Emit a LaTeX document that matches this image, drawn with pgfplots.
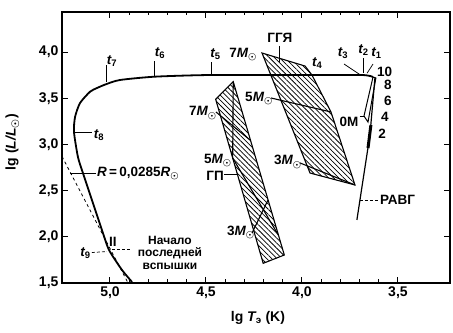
\documentclass[border=0pt]{standalone}
\usepackage{fontspec}
\setmainfont{Liberation Sans}
\usepackage{pgfplots}
\pgfplotsset{compat=1.18}
\usetikzlibrary{patterns.meta}
\tikzset{
  lab/.style={font=\fontsize{13.5}{12}\selectfont\bfseries, inner sep=0pt},
  hatch/.style={draw=black, line width=1.1pt,
    pattern={Lines[angle=-45, distance=3.6pt, line width=0.75pt]}},
}
\newcommand{\sun}{\textsubscript{\boldmath$\odot$}}

\begin{document}
\begin{tikzpicture}
\begin{axis}[
    name=ax,
    scale only axis,
    width=388pt, height=271pt,
    x dir=reverse,
    xmin=3.229, xmax=5.25,
    ymin=1.5, ymax=4.433,
    xtick={3.5,4.0,4.5,5.0},
    ytick={1.5,2.0,2.5,3.0,3.5,4.0},
    minor x tick num=4,
    axis line style={line width=1.3pt},
    major tick length=6pt, minor tick length=3.5pt,
    every tick/.style={black, line width=1pt},
    tick label style={font=\fontsize{14}{14}\selectfont\bfseries},
    /pgf/number format/use comma,
    /pgf/number format/fixed,
    /pgf/number format/fixed zerofill,
    /pgf/number format/precision=1,
    /pgf/number format/assume math mode=true,
    xlabel={lg {\itshape T}\textsubscript{э} (K)},
    ylabel={lg ({\itshape L/L}\sun)},
    xlabel style={font=\fontsize{14}{14}\selectfont\bfseries, at={(axis description cs:0.505,-0.13)}, anchor=center},
    ylabel style={font=\fontsize{14}{14}\selectfont\bfseries, at={(axis description cs:-0.128,0.52)}, anchor=center},
]

% ГГЯ: hatched region
\addplot[hatch] coordinates {
    (4.208,3.989) (3.984,3.848) (3.948,3.751) (3.849,3.351) (3.724,2.561) (3.958,2.690)
} --cycle;
% mass lines in ГГЯ
\addplot[line width=1.1pt] coordinates {(4.161,3.502) (3.849,3.351)};
\addplot[line width=1.1pt] coordinates {(4.010,2.799) (3.724,2.561)};

% ГП: hatched band
\addplot[hatch] coordinates {
    (4.4495,3.488) (4.358,3.679) (4.092,1.803) (4.202,1.713)
} --cycle;
\addplot[line width=1.1pt] coordinates {(4.448,3.351) (4.271,3.048)};
\addplot[line width=1.1pt] coordinates {(4.361,2.853) (4.358,3.679)};
\addplot[line width=1.1pt] coordinates {(4.361,2.853) (4.123,2.019)};
\addplot[line width=1.1pt] coordinates {(4.260,2.041) (4.177,2.398)};

% main track
\addplot[line width=1.8pt, smooth, tension=0.4] coordinates {
    (3.630,3.729) (3.6875,3.751) (4.010,3.751) (4.479,3.751) (4.766,3.733)
    (4.948,3.697) (5.021,3.651) (5.068,3.610) (5.104,3.570) (5.156,3.448)
    (5.182,3.297) (5.1875,3.134) (5.167,2.864) (5.141,2.690) (5.094,2.398)
    (5.042,2.074) (5.005,1.857) (4.9375,1.641) (4.885,1.511)
};

% R = 0.0285 R_sun
\addplot[dashed, line width=0.8pt] coordinates {(5.25,2.87) (4.906,1.5)};

% thin loop and РАВГ
\addplot[line width=1pt] coordinates {(3.630,3.729) (3.677,3.307) (3.656,3.242) (3.615,3.719)} --cycle;
\addplot[line width=1.2pt] coordinates {(3.620,3.719) (3.646,3.102) (3.714,2.182)};
\addplot[line width=3pt] coordinates {(3.641,3.21) (3.656,2.96)};

% leaders
\draw[line width=0.8pt] (axis cs:5.021,3.68) -- (axis cs:5.021,3.86);
\draw[line width=0.8pt] (axis cs:4.771,3.73) -- (axis cs:4.771,3.90);
\draw[line width=0.8pt] (axis cs:4.474,3.75) -- (axis cs:4.474,3.89);
\draw[line width=0.8pt] (axis cs:4.115,4.065) -- (axis cs:4.115,3.89);
\draw[line width=0.7pt] (axis cs:3.781,3.87) -- (axis cs:3.698,3.755);
\draw[line width=0.7pt] (axis cs:3.682,3.93) -- (axis cs:3.682,3.77);
\draw[line width=0.7pt] (axis cs:3.630,3.87) -- (axis cs:3.661,3.77);
\draw[line width=0.8pt] (axis cs:5.182,3.134) -- (axis cs:5.094,3.134);
\draw[line width=0.8pt] (axis cs:5.208,2.690) -- (axis cs:5.073,2.690);
\draw[line width=0.8pt] (axis cs:4.406,2.68) -- (axis cs:4.333,2.68);
\draw[line width=0.7pt] (axis cs:3.698,3.30) -- (axis cs:3.672,3.30);
\draw[line width=0.7pt, densely dashed] (axis cs:3.698,2.398) -- (axis cs:3.604,2.398);
\draw[line width=0.7pt, densely dashed] (axis cs:5.094,1.83) -- (axis cs:5.016,1.84);
\draw[line width=0.7pt, densely dashed] (axis cs:4.99,1.86) -- (axis cs:4.89,1.86);

% labels
\node[lab] at (axis cs:4.990,3.90) {{\itshape t}\textsubscript{7}};
\node[lab] at (axis cs:4.740,3.99) {{\itshape t}\textsubscript{6}};
\node[lab] at (axis cs:4.450,3.98) {{\itshape t}\textsubscript{5}};
\node[lab] at (axis cs:3.920,3.88) {{\itshape t}\textsubscript{4}};
\node[lab] at (axis cs:3.786,3.99) {{\itshape t}\textsubscript{3}};
\node[lab] at (axis cs:3.680,4.02) {{\itshape t}\textsubscript{2}};
\node[lab] at (axis cs:3.612,3.99) {{\itshape t}\textsubscript{1}};
\node[lab, anchor=west] at (axis cs:5.085,3.10) {{\itshape t}\textsubscript{8}};
\node[lab, anchor=east] at (axis cs:5.100,1.82) {{\itshape t}\textsubscript{9}};
\node[lab] at (axis cs:4.985,1.95) {II};
\node[lab, anchor=west] at (axis cs:5.068,2.690) {{\itshape R}\,=\,0,0285{\itshape R}\sun};
\node[lab, align=center, font=\fontsize{12}{12.5}\selectfont\bfseries] at (axis cs:4.6875,1.83) {Начало\\последней\\вспышки};

\node[lab] at (axis cs:4.115,4.15) {ГГЯ};
\node[lab, anchor=east] at (axis cs:4.234,3.97) {7{\itshape M}\sun};
\node[lab, anchor=east] at (axis cs:4.151,3.50) {5{\itshape M}\sun};
\node[lab, anchor=east] at (axis cs:4.000,2.81) {3{\itshape M}\sun};

\node[lab, anchor=east] at (axis cs:4.443,3.34) {7{\itshape M}\sun};
\node[lab, anchor=east] at (axis cs:4.365,2.83) {5{\itshape M}\sun};
\node[lab, anchor=east] at (axis cs:4.245,2.05) {3{\itshape M}\sun};
\node[lab, anchor=east] at (axis cs:4.406,2.66) {ГП};

\node[lab] at (axis cs:3.755,3.24) {0M};
\node[lab, anchor=west] at (axis cs:3.594,2.398) {РАВГ};
\node[lab] at (axis cs:3.570,3.784) {10};
\node[lab] at (axis cs:3.552,3.643) {8};
\node[lab] at (axis cs:3.552,3.470) {6};
\node[lab] at (axis cs:3.568,3.297) {4};
\node[lab] at (axis cs:3.583,3.113) {2};
\end{axis}
\path ([shift={(-62pt,-50pt)}]ax.south west) rectangle ([shift={(3pt,12pt)}]ax.north east);
\end{tikzpicture}
\end{document}
